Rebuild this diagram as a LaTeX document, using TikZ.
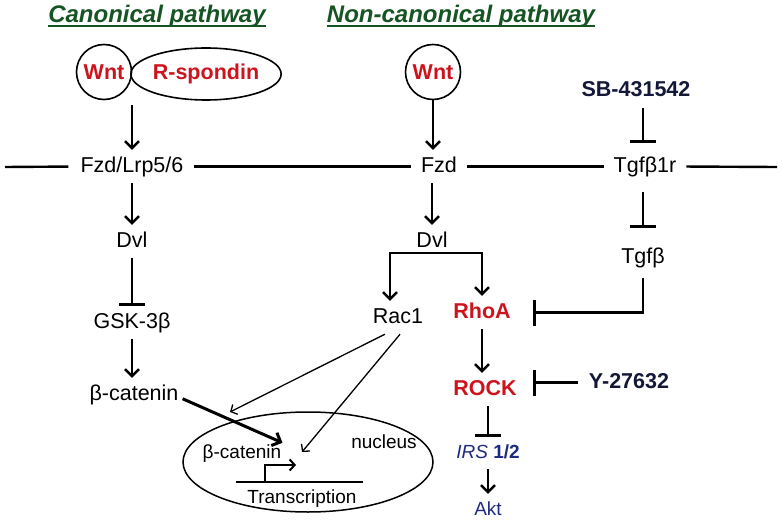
\documentclass[tikz,border=0pt]{standalone}
\usepackage{fontspec}
\setmainfont{Liberation Sans}
\usetikzlibrary{arrows.meta,shapes.geometric}
\definecolor{titlegreen}{RGB}{22,84,36}
\definecolor{wntred}{RGB}{204,20,30}
\definecolor{drugnavy}{RGB}{20,24,56}
\definecolor{irsblue}{RGB}{30,42,128}

\begin{document}
\begin{tikzpicture}[x=1pt, y=-1pt,
    lbl/.style={font=\fontsize{21.5}{24}\selectfont, text height=15pt, text depth=4pt, inner xsep=4pt, inner ysep=7pt},
    sml/.style={font=\fontsize{19}{22}\selectfont, text=irsblue, text height=14pt, text depth=4pt, inner xsep=3pt, inner ysep=7pt},
    nuctext/.style={font=\fontsize{19}{22}\selectfont, text height=14pt, text depth=4pt, inner sep=1pt},
    ligand/.style={draw, line width=1.6pt, font=\fontsize{21.5}{24}\selectfont\bfseries, text=wntred, inner sep=0pt},
    title/.style={font=\fontsize{24}{28}\selectfont\bfseries\itshape, text=titlegreen, inner sep=0pt, anchor=base},
    uline/.style={titlegreen, line width=1.4pt},
    mem/.style={line width=2.4pt, shorten <=6pt, shorten >=6pt},
    act/.style={line width=2.4pt, -{Straight Barb[length=7pt, width=14pt]}},
    actboth/.style={line width=2.4pt, {Straight Barb[length=7pt, width=14pt]}-{Straight Barb[length=7pt, width=14pt]}},
    bigact/.style={line width=3pt, -{Straight Barb[length=7pt, width=14pt]}},
    thinact/.style={line width=1.3pt, -{Straight Barb[length=5pt, width=11pt]}},
    inh/.style={line width=2.4pt, -{Bar[width=26pt, line width=3pt]}}]
    \useasboundingbox (0,0) rectangle (782,524);

    % Titles
    \node[title] (canon) at (157,23) {Canonical pathway};
    \node[title] (noncanon) at (461,23) {Non-canonical pathway};
    \draw[uline] ([yshift=-3pt]canon.base west) -- ([yshift=-3pt]canon.base east);
    \draw[uline] ([yshift=-3pt]noncanon.base west) -- ([yshift=-3pt]noncanon.base east);

    % Ligands
    \node[ligand, circle, minimum size=55pt] (wntA) at (104,72) {Wnt};
    \node[ligand, ellipse, minimum width=147pt, minimum height=52pt] (rspo) at (206,74) {R-spondin};
    \node[ligand, circle, minimum size=55pt] (wntB) at (433,72) {Wnt};
    \coordinate (lig) at (132,105);

    % Membrane receptors
    \node[lbl] (fzdlrp) at (132,166.5) {Fzd/Lrp5/6};
    \node[lbl] (fzd) at (439,166.5) {Fzd};
    \node[lbl] (tgfr) at (645,166.5) {Tgfβ1r};
    \coordinate (memL) at (5,167);
    \coordinate (memR) at (777,167);
    \draw[mem, shorten <=0pt, shorten >=8pt] (memL) -- (fzdlrp.west);
    \draw[mem] (fzdlrp.east) -- (fzd.west);
    \draw[mem] (fzd.east) -- (tgfr.west);
    \draw[mem, shorten >=0pt] (tgfr.east) -- (memR);

    % Canonical branch
    \node[lbl] (dvlA) at (132,241.5) {Dvl};
    \node[lbl] (gsk) at (132,322.5) {GSK-3β};
    \node[lbl] (bcat) at (134,394.5) {β-catenin};
    \draw[act] (lig) -- (lig |- fzdlrp.north);
    \draw[act] (fzdlrp.south -| dvlA) -- (dvlA);
    \draw[inh] (dvlA) -- (gsk);
    \draw[act] (gsk) -- (gsk |- bcat.north);

    % Non-canonical branch
    \node[lbl] (dvlB) at (432,241.5) {Dvl};
    \node[lbl] (rac1) at (398,317.5) {Rac1};
    \node[lbl, font=\fontsize{21.5}{24}\selectfont\bfseries, text=wntred] (rhoa) at (482,312.5) {RhoA};
    \node[lbl, font=\fontsize{21.5}{24}\selectfont\bfseries, text=wntred] (rock) at (485,389.5) {ROCK};
    \node[sml] (irs) at (488,453) {{\itshape IRS} {\bfseries 1/2}};
    \node[sml] (akt) at (488,510) {Akt};
    \coordinate (splitL) at (390,253);
    \coordinate (splitR) at (482,253);
    \draw[act] (wntB) -- (wntB |- fzd.north);
    \draw[act] (fzd.south -| dvlB) -- (dvlB);
    \draw[actboth] (splitL |- rac1.north) -- (splitL) -- (splitR) -- (splitR |- rhoa.north);
    \draw[act] (rhoa) -- (rhoa |- rock.north);
    \draw[inh] (rock.south -| irs) -- (irs);
    \draw[act] (irs) -- (akt);

    % Tgf-beta branch and inhibitors
    \node[lbl, font=\fontsize{21.5}{24}\selectfont\bfseries, text=drugnavy] (sb) at (636,91.5) {SB-431542};
    \node[lbl] (tgfb) at (643,257.5) {Tgfβ};
    \node[lbl, font=\fontsize{21.5}{24}\selectfont\bfseries, text=drugnavy] (y27) at (629,382.5) {Y-27632};
    \draw[inh, shorten >=7pt] (sb.south -| tgfb) -- (tgfr.north -| tgfb);
    \draw[inh, shorten <=9pt, shorten >=13pt] (tgfr.south -| tgfb) -- (tgfb);
    \draw[inh, shorten <=4pt, shorten >=18pt] (tgfb.south) |- (rhoa.east);
    \draw[inh, shorten <=7pt, shorten >=12pt] (y27.west) -- (y27.west -| rock.east);

    % Nucleus
    \node[draw, ellipse, line width=1.5pt, minimum width=250pt, minimum height=100pt] (nuc) at (308,462) {};
    \node[nuctext] (bcatin) at (242,453) {β-catenin};
    \node[nuctext] (nuclbl) at (384,443) {nucleus};
    \node[nuctext] (transc) at (302,498) {Transcription};
    \coordinate (geneL) at (236,482);
    \coordinate (geneR) at (363,482);
    \coordinate (tss) at (265,482);
    \coordinate (tssend) at (296,465);
    \coordinate (nuctop) at (230,412);
    \coordinate (nucin) at (302,452);
    \draw[line width=2.2pt] (geneL) -- (geneR);
    \draw[line width=2pt, -{Straight Barb[length=5pt, width=11pt]}] (tss) |- (tssend);
    \draw[bigact] (bcat.-5) -- (bcatin.north east);
    \draw[thinact] (rac1.232) -- (nuctop);
    \draw[thinact] (rac1.277) -- (nucin);
\end{tikzpicture}
\end{document}
